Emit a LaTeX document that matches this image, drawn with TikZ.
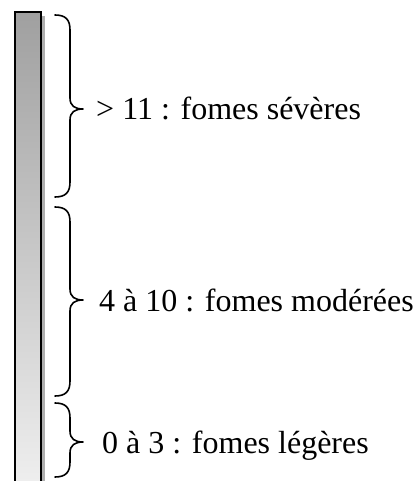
\documentclass[tikz,border=0pt]{standalone}
\usepackage{fontspec}
\setmainfont{Liberation Serif}
\definecolor{bartop}{RGB}{160,160,160}
\definecolor{barbot}{RGB}{238,238,238}
\definecolor{shadowc}{RGB}{175,175,175}
\tikzset{
  lbl/.style={anchor=base west,inner sep=0pt,font=\fontsize{32}{38}\selectfont},
  bracestyle/.style={line width=1.6pt,line join=round,line cap=round},
}
\newcommand{\mybrace}[3]{% top, bottom, tip
  \draw[bracestyle] (55,#1) .. controls (66,#1) and (70,#1+5) .. (70,#1+15)
    -- (70,#3-11) .. controls (70,#3-3) and (75,#3) .. (83,#3)
    .. controls (75,#3) and (70,#3+3) .. (70,#3+11)
    -- (70,#2-15) .. controls (70,#2-5) and (66,#2) .. (55,#2);
}
\begin{document}
\begin{tikzpicture}[x=1pt,y=-1pt]
\useasboundingbox (0,0) rectangle (414,481);
% bar
\fill[shadowc] (41,16) rectangle (44.5,481);
\shade[top color=bartop,bottom color=barbot] (15,12) rectangle (41,481);
\draw[line width=2pt] (15,481) -- (15,12) -- (41,12) -- (41,481);
% braces
\mybrace{15}{197}{109}
\mybrace{207}{396}{300}
\mybrace{403}{477}{442}
% labels
\node[lbl] (sev) at (96,120) {> 11 : fomes sévères};
\node[lbl] (mod) at (99,311) {4 à 10 : fomes modérées};
\node[lbl] (leg) at (102,453) {0 à 3 : fomes légères};
\end{tikzpicture}
\end{document}
